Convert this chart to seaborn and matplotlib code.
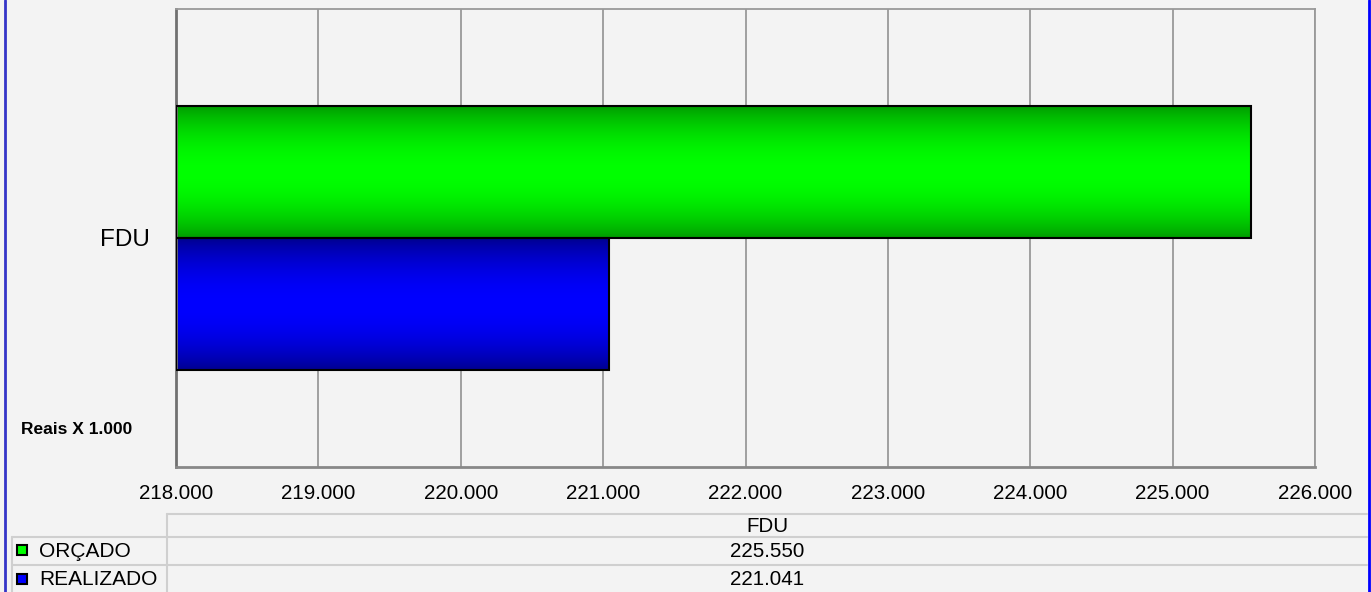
import numpy as np
import pandas as pd
import matplotlib
matplotlib.use("Agg")
import matplotlib.pyplot as plt
from matplotlib.lines import Line2D
from matplotlib.patches import Rectangle
from matplotlib.ticker import FuncFormatter, FixedLocator
import seaborn as sns

# ---- data ----
categories = ["FDU"]
series = ["ORÇADO", "REALIZADO"]
orcado = [225.550]
realizado = [221.041]
table_values = ["225.550", "221.041"]
x_ticks = [218, 219, 220, 221, 222, 223, 224, 225, 226]
unit_label = "Reais X 1.000"

bright = {"ORÇADO": (0.0, 1.0, 0.0), "REALIZADO": (0.0, 0.0, 1.0)}
dark = {"ORÇADO": (0.0, 0.60, 0.0), "REALIZADO": (0.0, 0.0, 0.55)}

df = pd.DataFrame({
    "cat": categories * 2,
    "series": [series[0]] * len(categories) + [series[1]] * len(categories),
    "value": orcado + realizado,
})

sns.set_theme(style="white")
plt.rcParams["font.family"] = ["Liberation Sans", "DejaVu Sans"]

W, H = 1371, 592
fig = plt.figure(figsize=(W / 100, H / 100), dpi=100, facecolor="#f3f3f3")
ax = fig.add_axes([176 / W, 1 - 467 / H, (1315 - 176) / W, (467 - 9) / H])
ax.set_facecolor("#f3f3f3")

sns.barplot(data=df, y="cat", x="value", hue="series", orient="h",
            palette=[bright[s] for s in series], width=0.575, gap=0,
            edgecolor="black", linewidth=1.5, ax=ax, legend=False)

ax.set_xlim(218, 226)
ax.set_ylim(0.5, -0.5)

# gradient fill inside each bar
prof = np.linspace(0, 1, 200)
f = np.sin(np.pi * prof) ** 0.8
hue_order = series
for i, patch in enumerate(ax.patches):
    s = hue_order[i // len(categories)]
    x0, y0 = patch.get_x(), patch.get_y()
    w, h = patch.get_width(), patch.get_height()
    d = np.array(dark[s]); b = np.array(bright[s])
    grad = d[None, :] + (b - d)[None, :] * f[:, None]
    img = np.repeat(grad[:, None, :], 2, axis=1)
    left = ax.get_xlim()[0]
    im = ax.imshow(img, extent=(left, x0 + w, y0 + h, y0), aspect="auto",
                   origin="upper", zorder=2, interpolation="bilinear")
    patch.set_facecolor("none")
    patch.set_zorder(3)
    patch.set_x(left)
    patch.set_width(x0 + w - left)
    im.set_clip_path(patch)
ax.set_xlim(218, 226)
ax.set_ylim(0.5, -0.5)

# grid and spines
ax.xaxis.set_major_locator(FixedLocator(x_ticks))
ax.xaxis.set_major_formatter(FuncFormatter(lambda v, p: f"{v:.3f}"))
ax.grid(axis="x", color="#999999", linewidth=1.3, zorder=0)
ax.set_axisbelow(True)
for side in ["top", "right"]:
    ax.spines[side].set_color("#999999")
    ax.spines[side].set_linewidth(1.3)
ax.spines["left"].set_color("#707070")
ax.spines["left"].set_linewidth(2)
ax.spines["bottom"].set_color("#888888")
ax.spines["bottom"].set_linewidth(2)

ax.tick_params(axis="x", length=6, width=1.3, color="#999999",
               labelsize=14.8, pad=6.5, labelcolor="black", direction="out")
ax.tick_params(axis="y", which="major", length=0, labelsize=17.5, pad=19,
               labelcolor="black")
ax.set_yticks([-0.5, 0.5], minor=True)
ax.tick_params(axis="y", which="minor", length=6, width=1.3, color="#999999",
               direction="out")
ax.set_xlabel("")
ax.set_ylabel("")

# unit label
fig.text(21 / W, 1 - 430 / H, unit_label, fontsize=12.5, fontweight="bold",
         ha="left", va="center", color="black")

# ---- data table below ----
line_col = "#cfcfcf"
def hline(y, x0, x1):
    fig.add_artist(Line2D([x0 / W, x1 / W], [1 - y / H, 1 - y / H],
                          color=line_col, linewidth=1.5))
def vline(x, y0, y1):
    fig.add_artist(Line2D([x / W, x / W], [1 - y0 / H, 1 - y1 / H],
                          color=line_col, linewidth=1.5))

hline(514, 167, 1367)
hline(537, 12, 1367)
hline(565, 12, 1367)
vline(167, 514, 592)
vline(12, 537, 592)

mid = (167 + 1367) / 2
fig.text(mid / W, 1 - 526 / H, categories[0], fontsize=14.8, ha="center",
         va="center", color="black")
rows_y = [551.5, 579.5]
sq_y = [550, 578.5]
for s, val, yy, sy in zip(series, table_values, rows_y, sq_y):
    fig.text(mid / W, 1 - yy / H, val, fontsize=14.8, ha="center",
             va="center", color="black")
    fig.add_artist(Rectangle((16.5 / W, 1 - (sy + 5) / H), 10 / W, 10 / H,
                             facecolor=bright[s], edgecolor="black",
                             linewidth=1.5, transform=fig.transFigure))
    fig.text(39 / W, 1 - yy / H, s, fontsize=15, ha="left", va="center",
             color="black")

# outer frame (blue side borders)
fig.add_artist(Line2D([4.5 / W, 4.5 / W], [0, 1], color="#3535c8", linewidth=2))
fig.add_artist(Line2D([1368.5 / W, 1368.5 / W], [0, 1], color="#0000ff",
                      linewidth=2))

fig.savefig("out.png", dpi=100, facecolor=fig.get_facecolor())
